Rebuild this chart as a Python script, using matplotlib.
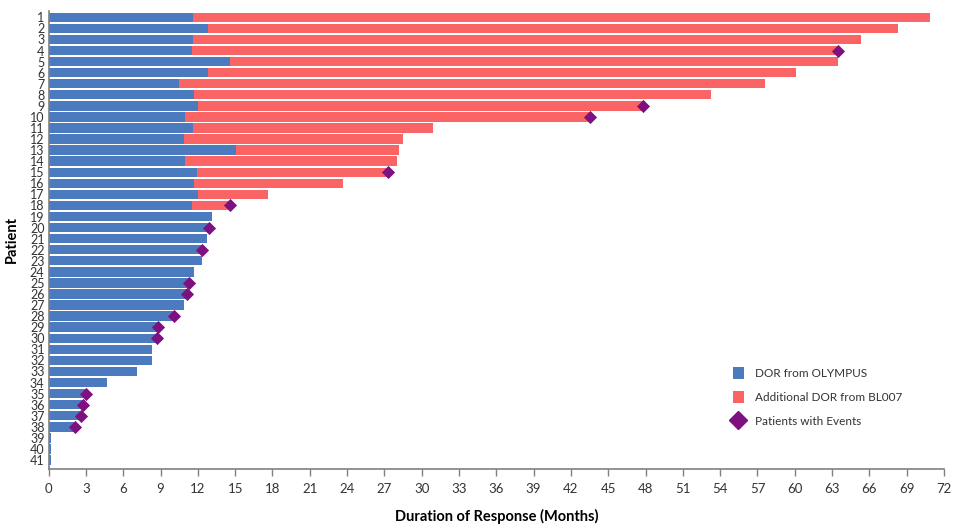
import matplotlib
matplotlib.use("Agg")
import matplotlib.pyplot as plt
from matplotlib.lines import Line2D
from matplotlib.patches import Patch

plt.rcParams['font.family'] = ['Lato', 'DejaVu Sans']

patients = list(range(1, 42))
dor_olympus = [11.6, 12.8, 11.6, 11.5, 14.6, 12.8, 10.5, 11.7, 12.0, 11.0,
               11.6, 10.9, 15.1, 11.0, 11.9, 11.7, 12.0, 11.5, 13.1, 12.9,
               12.7, 12.3, 12.3, 11.7, 11.3, 11.1, 10.9, 10.1, 8.8, 8.7,
               8.3, 8.3, 7.1, 4.7, 3.0, 2.8, 2.6, 2.1, 0.2, 0.2, 0.2]
total_dor = [70.9, 68.3, 65.3, 63.5, 63.5, 60.1, 57.6, 53.3, 47.8, 43.5,
             30.9, 28.5, 28.2, 28.0, 27.3, 23.7, 17.6, 14.6]
event_patients = [4, 9, 10, 15, 18, 20, 22, 25, 26, 28, 29, 30, 35, 36, 37, 38]
x_ticks = list(range(0, 73, 3))

blue = '#4B7BBE'
red = '#FB6464'
purple = '#7E1180'

fig = plt.figure(figsize=(9.6, 5.25), dpi=100)
ax = fig.add_axes([0.0507, 0.1067, 0.9326, 0.873])

ax.barh(patients, dor_olympus, height=0.85, color=blue, zorder=2)
add = [t - b for t, b in zip(total_dor, dor_olympus[:len(total_dor)])]
ax.barh(patients[:len(total_dor)], add, left=dor_olympus[:len(total_dor)],
        height=0.85, color=red, zorder=2)

ends = [total_dor[p - 1] if p <= len(total_dor) else dor_olympus[p - 1] for p in event_patients]
ax.scatter(ends, event_patients, marker='D', s=45, color=purple, zorder=3, linewidths=0)

ax.set_ylim(41.81, 0.4)
ax.set_xlim(0, 72)
ax.set_yticks(patients)
ax.set_yticklabels([str(p) for p in patients], fontsize=9, color='#333333')
ax.tick_params(axis='y', length=0, pad=3)
ax.set_xticks(x_ticks)
ax.set_xticklabels([str(t) for t in x_ticks], fontsize=9.5, color='#333333')
ax.tick_params(axis='x', length=5, width=1, color='#808080', pad=5)

for s in ['top', 'right']:
    ax.spines[s].set_visible(False)
for s in ['left', 'bottom']:
    ax.spines[s].set_color('#808080')
    ax.spines[s].set_linewidth(1.2)

ax.set_xlabel('Duration of Response (Months)', fontsize=10.5, fontweight='bold', labelpad=10)
ax.set_ylabel('Patient', fontsize=10.5, fontweight='bold', labelpad=8)

handles = [Patch(facecolor=blue, edgecolor='none'),
           Patch(facecolor=red, edgecolor='none'),
           Line2D([], [], marker='D', color=purple, linestyle='none', markersize=9.5)]
labels = ['DOR from OLYMPUS', 'Additional DOR from BL007', 'Patients with Events']
leg = ax.legend(handles, labels, loc='upper left', bbox_to_anchor=(0.752, 0.245),
                frameon=False, fontsize=8.5, handlelength=1.0, handleheight=1.1,
                handletextpad=0.9, labelspacing=1.05)
for t in leg.get_texts():
    t.set_color('#333333')

fig.savefig('out.png', dpi=100)
